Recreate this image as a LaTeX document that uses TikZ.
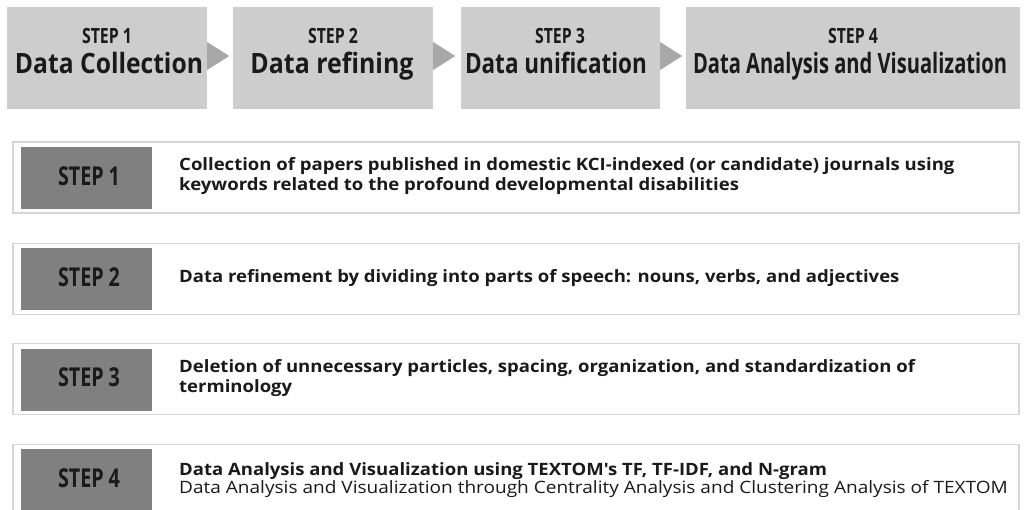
\documentclass[tikz,border=0pt]{standalone}
\usepackage{fontspec}
\setmainfont{Open Sans}
\newfontfamily\rowfont[FakeStretch=1.09]{Open Sans}
\newfontfamily\rowfontwide[FakeStretch=1.12]{Open Sans}
\usepackage{graphicx}
\usetikzlibrary{calc}
\definecolor{topgray}{HTML}{CDCDCD}
\definecolor{trigray}{HTML}{A8A8A8}
\definecolor{darkgray}{HTML}{808080}
\definecolor{rimgray}{HTML}{D6D6D6}
\definecolor{ink}{HTML}{1A1A1A}
\newcommand{\fitw}[2]{\resizebox{#1}{\height}{#2}}
\tikzset{
  topbox/.style={fill=topgray, inner sep=0, minimum height=102pt},
  arrowtri/.style={fill=trigray},
  toplabel/.style={anchor=base, inner sep=0, text=ink, font=\bfseries\fontsize{21}{21}\selectfont},
  toptitle/.style={anchor=base, inner sep=0, text=ink, font=\bfseries\fontsize{28}{28}\selectfont},
  rowbox/.style={draw=rimgray, line width=1.2pt, fill=white, inner sep=0, minimum width=1006pt, minimum height=71pt},
  stepbox/.style={fill=darkgray, inner sep=0, minimum width=131pt, minimum height=62pt},
  steplabel/.style={anchor=base, inner sep=0, text=ink, font=\bfseries\fontsize{26}{26}\selectfont},
  rowtext/.style={anchor=west, inner sep=0, align=left, text=ink, font=\rowfont\bfseries\fontsize{17}{20}\selectfont},
}
\begin{document}
\begin{tikzpicture}[x=1pt,y=-1pt]
\useasboundingbox (0,0) rectangle (1025,509);
\clip (0,0) rectangle (1025,509);
\fill[white] (0,0) rectangle (1025,509);
% top process boxes
\node[topbox, minimum width=200pt] (t1) at (107,58) {};
\node[topbox, minimum width=200pt] (t2) at (333,58) {};
\node[topbox, minimum width=199pt] (t3) at (560.5,58) {};
\node[topbox, minimum width=334pt] (t4) at (853,58) {};
\foreach \a/\b in {t1/t2,t2/t3,t3/t4}{
  \fill[arrowtri] ($(\a.east)+(0,-16)$) -- ($(\a.east)+(22,-2)$) -- ($(\a.east)+(0,12)$) -- cycle;
}
\node[toplabel] (t1s) at (107,43) {\fitw{50pt}{STEP 1}};
\node[toptitle] (t1l) at (109,73) {\fitw{188pt}{Data Collection}};
\node[toplabel] (t2s) at (333,43) {\fitw{50pt}{STEP 2}};
\node[toptitle] (t2l) at (332,73) {\fitw{163pt}{Data refining}};
\node[toplabel] (t3s) at (560,43) {\fitw{50pt}{STEP 3}};
\node[toptitle] (t3l) at (556,73) {\fitw{182pt}{Data unification}};
\node[toplabel] (t4s) at (853,43) {\fitw{50pt}{STEP 4}};
\node[toptitle] (t4l) at (850,73) {\fitw{314pt}{Data Analysis and Visualization}};
% detail rows
\node[rowbox] (r1) at (516,177.5) {};
\node[stepbox] (s1) at (86.5,178) {};
\node[steplabel] (s1l) at (89,185) {\fitw{62pt}{STEP 1}};
\node[rowtext] (d1) at (179,176) {Collection of papers published in domestic KCI-indexed (or candidate) journals using\\keywords related to the profound developmental disabilities};

\node[rowbox] (r2) at (516,279) {};
\node[stepbox] (s2) at (86.5,278.5) {};
\node[steplabel] (s2l) at (89,286) {\fitw{62pt}{STEP 2}};
\node[rowtext] (d2) at (179,278) {Data refinement by dividing into parts of speech: nouns, verbs, and adjectives};

\node[rowbox] (r3) at (516,379) {};
\node[stepbox] (s3) at (86.5,379.5) {};
\node[steplabel] (s3l) at (89,386) {\fitw{62pt}{STEP 3}};
\node[rowtext] (d3) at (179,378) {Deletion of unnecessary particles, spacing, organization, and standardization of\\terminology};

\node[rowbox] (r4) at (516,480) {};
\node[stepbox] (s4) at (86.5,480) {};
\node[steplabel] (s4l) at (89,487) {\fitw{62pt}{STEP 4}};
\node[rowtext, font=\rowfont\fontsize{17}{17}\selectfont] (d4) at (179,480) {\textbf{Data Analysis and Visualization using TEXTOM's TF, TF-IDF, and N-gram}\\{\rowfontwide Data Analysis and Visualization through Centrality Analysis and Clustering Analysis of TEXTOM}};
\end{tikzpicture}
\end{document}
